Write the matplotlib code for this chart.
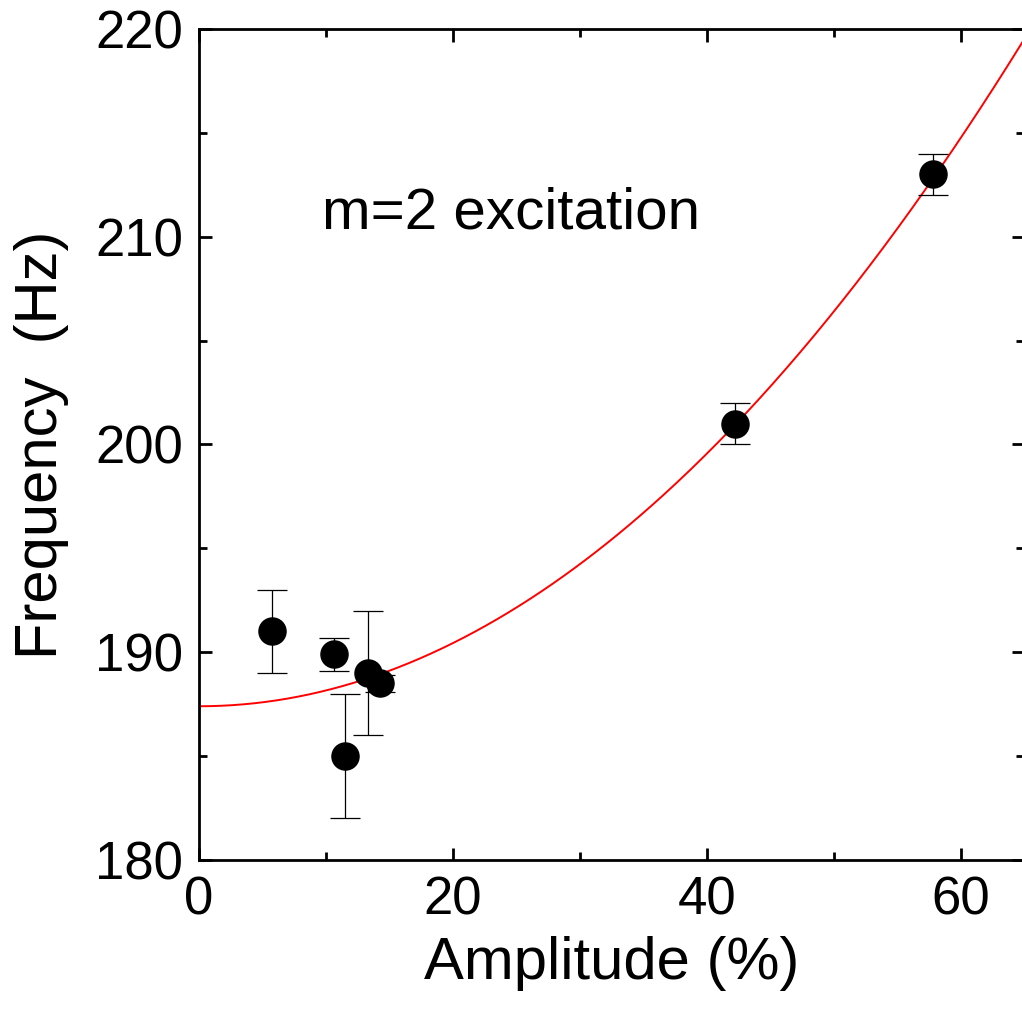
import matplotlib
matplotlib.use("Agg")
import matplotlib.pyplot as plt
import numpy as np
from matplotlib.ticker import MultipleLocator

plt.rcParams["font.family"] = ["Liberation Sans", "DejaVu Sans"]

# measured points (amplitude %, frequency Hz, error Hz)
amplitude = [5.75, 10.6, 11.5, 13.3, 14.25, 42.2, 57.8]
frequency = [191.0, 189.9, 185.0, 189.0, 188.5, 201.0, 213.0]
freq_err = [2.0, 0.8, 3.0, 3.0, 0.4, 1.0, 1.0]

# quadratic fit f = f0 + k * A^2
fit_f0 = 187.4
fit_k = 0.0076

fig = plt.figure(figsize=(10.22, 10.21), dpi=100)
ax = fig.add_axes([0.1947, 0.1577, 0.8075, 0.8139])

a_fit = np.linspace(0, 65, 300)
ax.plot(a_fit, fit_f0 + fit_k * a_fit**2, color="red", lw=1.4, zorder=2)

ax.errorbar(amplitude, frequency, yerr=freq_err, fmt="o", color="black",
            markersize=19.5, ecolor="black", elinewidth=0.9, capsize=11,
            capthick=0.9, zorder=3)

ax.text(9.7, 210.4, "m=2 excitation", fontsize=42)

ax.set_xlim(0, 65)
ax.set_ylim(180, 220)
ax.xaxis.set_major_locator(MultipleLocator(20))
ax.xaxis.set_minor_locator(MultipleLocator(10))
ax.yaxis.set_major_locator(MultipleLocator(10))
ax.yaxis.set_minor_locator(MultipleLocator(5))
ax.tick_params(which="both", direction="in", top=True, right=True,
               width=2, labelsize=38)
ax.tick_params(which="major", length=9)
ax.tick_params(which="minor", length=6)
ax.tick_params(axis="x", pad=11)
ax.tick_params(axis="y", pad=11.5)
for s in ax.spines.values():
    s.set_linewidth(2)

ax.set_xlabel("Amplitude (%)", fontsize=43, labelpad=8)
ax.set_ylabel("Frequency  (Hz)", fontsize=43, labelpad=19)

fig.savefig("out.png", dpi=100)
plt.close(fig)
